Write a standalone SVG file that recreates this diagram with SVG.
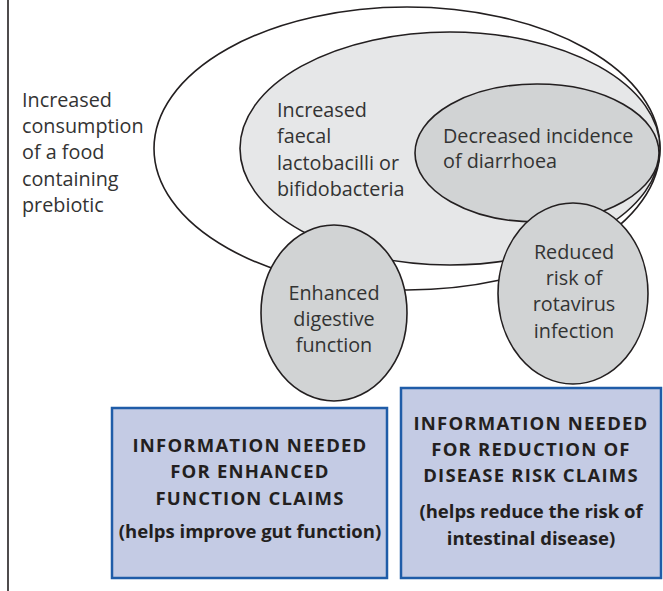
<svg xmlns="http://www.w3.org/2000/svg" width="663" height="591" viewBox="0 0 663 591">
<style>
.el{stroke:#231f20;stroke-width:1.6}
.t{font-family:"Open Sans","DejaVu Sans",sans-serif;font-size:19.8px;fill:#333}
.c{text-anchor:middle}
.b{font-family:"Open Sans","DejaVu Sans",sans-serif;font-weight:bold;font-size:18.5px;fill:#231f20;text-anchor:middle}
.cap{letter-spacing:1.2px}
.box{fill:#c4cbe4;stroke:#1f5ca8;stroke-width:2.5}
</style>
<rect width="663" height="591" fill="#fff"/>
<g id="frame"><line x1="8" y1="0" x2="8" y2="591" stroke="#231f20" stroke-width="1.6"/></g>
<g id="consumption">
<ellipse class="el" cx="407" cy="148.5" rx="253" ry="141.5" fill="#fff"/>
<text class="t" x="22" y="107">Increased</text>
<text class="t" x="22" y="133">consumption</text>
<text class="t" x="22" y="159">of a food</text>
<text class="t" x="22" y="186">containing</text>
<text class="t" x="22" y="212">prebiotic</text>
</g>
<g id="faecal">
<ellipse class="el" cx="450" cy="148.5" rx="210" ry="116.5" fill="#e6e7e8"/>
<text class="t" x="277" y="117">Increased</text>
<text class="t" x="277" y="143">faecal</text>
<text class="t" x="277" y="170">lactobacilli or</text>
<text class="t" x="277" y="196">bifidobacteria</text>
</g>
<g id="diarrhoea">
<ellipse class="el" cx="537" cy="153" rx="122" ry="69" fill="#d1d3d4"/>
<text class="t" x="443" y="143">Decreased incidence</text>
<text class="t" x="443" y="168">of diarrhoea</text>
</g>
<g id="digestive">
<ellipse class="el" cx="334" cy="313" rx="73" ry="88" fill="#d1d3d4"/>
<text class="t c" x="334" y="300">Enhanced</text>
<text class="t c" x="334" y="326">digestive</text>
<text class="t c" x="334" y="352">function</text>
</g>
<g id="rotavirus">
<ellipse class="el" cx="573" cy="293.5" rx="75" ry="90.5" fill="#d1d3d4"/>
<text class="t c" x="574" y="259">Reduced</text>
<text class="t c" x="574" y="285">risk of</text>
<text class="t c" x="574" y="311">rotavirus</text>
<text class="t c" x="574" y="338">infection</text>
</g>
<g id="function-claims">
<rect class="box" x="112" y="408" width="275" height="170"/>
<text class="b cap" x="250" y="452">INFORMATION NEEDED</text>
<text class="b cap" x="250" y="478">FOR ENHANCED</text>
<text class="b cap" x="250" y="505">FUNCTION CLAIMS</text>
<text class="b" x="250" y="538">(helps improve gut function)</text>
</g>
<g id="risk-claims">
<rect class="box" x="401" y="388" width="260" height="190"/>
<text class="b cap" x="531" y="430">INFORMATION NEEDED</text>
<text class="b cap" x="531" y="456">FOR REDUCTION OF</text>
<text class="b cap" x="531" y="482">DISEASE RISK CLAIMS</text>
<text class="b" x="531" y="518">(helps reduce the risk of</text>
<text class="b" x="531" y="545">intestinal disease)</text>
</g>
<g id="connectors"></g>
</svg>
